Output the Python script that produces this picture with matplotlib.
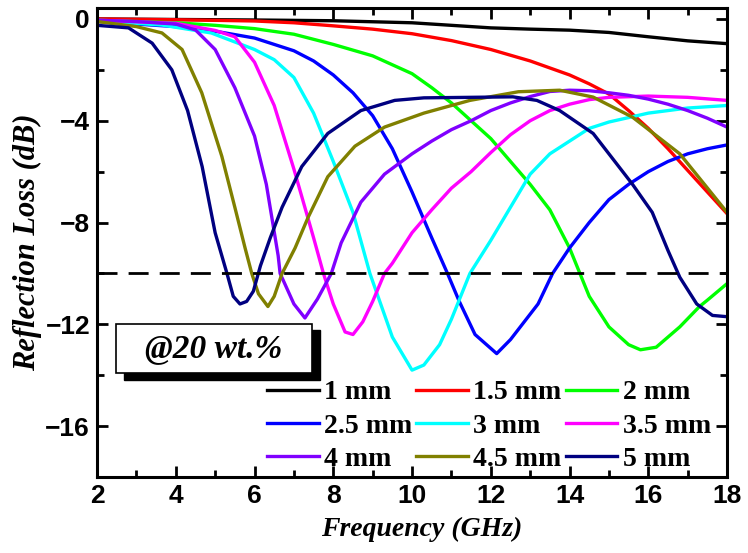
import matplotlib
matplotlib.use('Agg')
import matplotlib.pyplot as plt
from matplotlib.patches import Rectangle
from matplotlib.ticker import MultipleLocator

# thickness labels and colours
labels = ['1 mm', '1.5 mm', '2 mm', '2.5 mm', '3 mm', '3.5 mm', '4 mm', '4.5 mm', '5 mm']
colors = ['#000000', '#ff0000', '#00ff00', '#0000ff', '#00ffff', '#ff00ff', '#8000ff', '#808000', '#000080']

# frequency (GHz) / reflection loss (dB)
f_1 = [2, 4, 6, 8, 10, 11, 12, 13, 14, 15, 16, 17, 18]
rl_1 = [0, -0.02, -0.04, -0.07, -0.15, -0.25, -0.35, -0.4, -0.44, -0.53, -0.7, -0.86, -0.97]

f_15 = [2, 4, 6, 7, 8, 9, 10, 11, 12, 13, 14, 14.5, 15, 15.5, 16, 16.5, 17, 17.5, 18]
rl_15 = [0, -0.03, -0.08, -0.15, -0.27, -0.4, -0.58, -0.85, -1.2, -1.65, -2.2, -2.55, -2.95,
         -3.6, -4.3, -5.1, -5.95, -6.8, -7.65]

f_2 = [2, 4, 5, 6, 7, 8, 9, 10, 10.5, 11, 11.5, 12, 12.5, 13, 13.5, 14, 14.5, 15, 15.5, 15.8,
       16.2, 16.5, 16.8, 17.3, 17.5, 18]
rl_2 = [-0.05, -0.15, -0.25, -0.38, -0.6, -1.0, -1.45, -2.15, -2.7, -3.3, -4.0, -4.7, -5.6, -6.5,
        -7.5, -9.0, -10.9, -12.1, -12.8, -13.0, -12.9, -12.5, -12.1, -11.3, -11.05, -10.4]

f_25 = [2, 3, 4, 5, 6, 7, 7.5, 8, 8.5, 9, 9.5, 10, 10.5, 10.9, 11.2, 11.6, 12.15, 12.5, 12.8,
        13.2, 13.57, 14, 14.5, 15, 15.5, 16, 16.5, 17, 17.5, 18]
rl_25 = [-0.1, -0.2, -0.3, -0.48, -0.75, -1.25, -1.65, -2.2, -2.9, -3.8, -5.1, -6.8, -8.6, -10.0,
         -11.1, -12.4, -13.15, -12.6, -12.0, -11.2, -10.0, -9.0, -8.0, -7.1, -6.5, -6.0, -5.6,
         -5.3, -5.1, -4.95]

f_3 = [2, 3.65, 4.9, 6, 6.5, 7, 7.5, 8, 8.5, 8.93, 9.5, 10, 10.3, 10.7, 11, 11.47, 12, 12.5, 13,
       13.5, 14, 14.5, 15, 16, 17, 18]
rl_3 = [-0.07, -0.24, -0.55, -1.2, -1.6, -2.3, -3.7, -5.6, -7.6, -10.0, -12.5, -13.8, -13.6,
        -12.8, -11.8, -10.0, -8.7, -7.4, -6.1, -5.3, -4.8, -4.3, -4.05, -3.7, -3.5, -3.4]

f_35 = [2, 4, 5, 5.5, 6, 6.5, 7, 7.5, 7.75, 8, 8.3, 8.5, 8.75, 9, 9.3, 9.5, 10, 10.5, 11, 11.5,
        12, 12.5, 13, 13.5, 14, 14.5, 15, 16, 17, 18]
rl_35 = [-0.05, -0.17, -0.45, -0.7, -1.7, -3.4, -5.9, -8.6, -10.0, -11.2, -12.3, -12.4, -11.9,
         -11.1, -10.0, -9.6, -8.4, -7.5, -6.65, -6.0, -5.25, -4.55, -4.0, -3.6, -3.35, -3.17,
         -3.08, -3.03, -3.08, -3.2]

f_4 = [2, 3, 4, 4.5, 5, 5.5, 6, 6.3, 6.6, 6.65, 7, 7.28, 7.6, 7.95, 8.2, 8.7, 9.3, 10, 10.5, 11,
       11.5, 12, 12.5, 13, 13.5, 14, 14.5, 15, 15.5, 16, 16.5, 17, 17.5, 18]
rl_4 = [-0.05, -0.1, -0.2, -0.43, -1.2, -2.7, -4.6, -6.5, -9.3, -10.0, -11.2, -11.75, -11.0,
        -10.0, -8.8, -7.2, -6.1, -5.3, -4.8, -4.35, -4.0, -3.6, -3.3, -3.05, -2.85, -2.8, -2.82,
        -2.9, -3.0, -3.15, -3.35, -3.6, -3.9, -4.25]

f_45 = [2, 3, 3.65, 4.16, 4.66, 5.17, 5.5, 5.76, 5.93, 6.1, 6.34, 6.5, 6.7, 7.03, 7.36, 7.86,
        8.55, 9.3, 10.3, 11.47, 12.7, 13.75, 14.6, 15.6, 16.8, 18]
rl_45 = [-0.1, -0.3, -0.55, -1.2, -2.9, -5.4, -7.4, -9.0, -10.0, -10.8, -11.3, -10.9, -10.0,
         -9.0, -7.8, -6.2, -5.0, -4.25, -3.7, -3.2, -2.86, -2.8, -3.07, -3.86, -5.3, -7.6]

f_5 = [2, 2.8, 3.4, 3.9, 4.3, 4.67, 5.0, 5.3, 5.46, 5.63, 5.8, 5.97, 6.15, 6.4, 6.7, 7.2, 7.86,
       8.7, 9.56, 10.3, 11.47, 12.56, 13.17, 13.75, 14.6, 15.6, 16.1, 16.5, 16.8, 17.23, 17.63, 18]
rl_5 = [-0.25, -0.35, -0.95, -2.0, -3.6, -5.8, -8.4, -10.0, -10.9, -11.2, -11.1, -10.7, -9.7,
        -8.6, -7.4, -5.8, -4.5, -3.6, -3.2, -3.1, -3.08, -3.06, -3.2, -3.6, -4.5, -6.5, -7.6,
        -9.1, -10.15, -11.2, -11.65, -11.7]

freqs = [f_1, f_15, f_2, f_25, f_3, f_35, f_4, f_45, f_5]
losses = [rl_1, rl_15, rl_2, rl_25, rl_3, rl_35, rl_4, rl_45, rl_5]

serif = ['Liberation Serif', 'DejaVu Serif']
sans = ['Liberation Sans', 'DejaVu Sans']

fig = plt.figure(figsize=(7.48, 5.53), dpi=100)
ax = fig.add_axes([0.1297, 0.1374, 0.8423, 0.8481])

lines = []
for f, rl, c, lab in zip(freqs, losses, colors, labels):
    ln, = ax.plot(f, rl, color=c, lw=2.4, label=lab)
    lines.append(ln)

ax.axhline(-10, color='black', lw=2.0, dashes=(7.2, 4))

ax.set_xlim(2, 18)
ax.set_ylim(-18, 0.43)
ax.xaxis.set_major_locator(MultipleLocator(2))
ax.xaxis.set_minor_locator(MultipleLocator(1))
ax.yaxis.set_major_locator(MultipleLocator(4))
ax.yaxis.set_minor_locator(MultipleLocator(2))
ax.tick_params(which='both', direction='in', top=True, right=True, width=2)
ax.tick_params(which='major', length=8)
ax.tick_params(which='minor', length=5)
ax.tick_params(axis='both', labelsize=19, pad=5)
for t in ax.get_xticklabels() + ax.get_yticklabels():
    t.set_family(sans)
    t.set_fontweight('bold')
for s in ax.spines.values():
    s.set_linewidth(2.2)

ax.set_xlabel('Frequency (GHz)', family=serif, fontsize=20, fontweight='bold', style='italic')
ax.xaxis.set_label_coords(0.516, -0.085)
ax.set_ylabel('Reflection Loss (dB)', family=serif, fontsize=22, fontweight='bold', style='italic', labelpad=2)

# legend filled column-wise, so reorder to read row by row
order = [0, 3, 6, 1, 4, 7, 2, 5, 8]
ax.legend([lines[i] for i in order], [labels[i] for i in order], ncol=3, frameon=False,
          loc='upper left', bbox_to_anchor=(0.270, 0.207), prop={'family': serif, 'weight': 'bold', 'size': 20},
          handlelength=1.85, handletextpad=0.2, columnspacing=0.15, labelspacing=0.28, borderpad=0,
          borderaxespad=0)

# "@20 wt.%" box with shadow
ax.add_patch(Rectangle((2.68, -14.17), 4.98, 1.93, facecolor='black', edgecolor='black', zorder=5, clip_on=False))
ax.add_patch(Rectangle((2.48, -13.93), 4.98, 1.93, facecolor='white', edgecolor='black', lw=1.2, zorder=6))
ax.text(4.97, -12.97, '@20 wt.%', family=serif, fontsize=24, fontweight='bold', style='italic',
        ha='center', va='center', zorder=7)

fig.savefig('out.png', dpi=100)
